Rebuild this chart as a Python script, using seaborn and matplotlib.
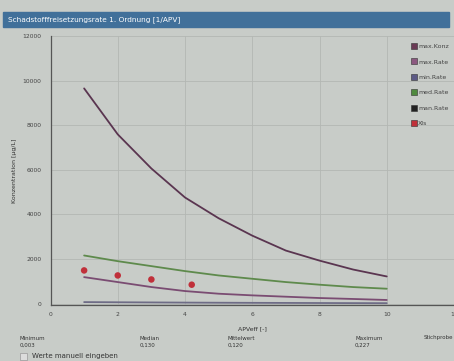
import numpy as np
import pandas as pd
import matplotlib
matplotlib.use("Agg")
import matplotlib.pyplot as plt
import seaborn as sns
from matplotlib.lines import Line2D
from matplotlib.patches import Rectangle

# values
apv = [1, 2, 3, 4, 5, 6, 7, 8, 9, 10]
max_konz = [9650, 7590, 6060, 4760, 3830, 3050, 2380, 1930, 1530, 1220]
med_rate = [2160, 1905, 1683, 1460, 1265, 1116, 968, 850, 744, 670]
max_rate = [1190, 968, 745, 565, 446, 372, 312, 253, 210, 165]
min_rate = [70, 62, 55, 48, 42, 37, 33, 29, 25, 22]

xis_x = [1.0, 2.0, 3.0, 4.2]
xis_y = [1490, 1265, 1085, 850]

legend_names = ["max.Konz", "max.Rate", "min.Rate", "med.Rate", "man.Rate", "XIs"]
legend_colors = ["#6a3a55", "#8c5880", "#5c5a86", "#4f8a3e", "#222222", "#c0303a"]

stat_names = ["Minimum", "Median", "Mittelwert", "Maximum", "Stichprobe"]
stat_values = ["0,003", "0,130", "0,120", "0,227", ""]

bg = "#c8ccc8"
sns.set_style("whitegrid", {"axes.facecolor": bg, "grid.color": "#b3b7b3",
                            "axes.edgecolor": "#555555"})
plt.rcParams["font.family"] = ["DejaVu Sans"]

fig = plt.figure(figsize=(4.54, 3.61), dpi=100, facecolor=bg)
ax = fig.add_axes([50.5 / 454, 56 / 361, 403.5 / 454, 269 / 361])

curves = pd.DataFrame({"x": apv, "max.Konz": max_konz, "max.Rate": max_rate,
                       "min.Rate": min_rate, "med.Rate": med_rate})
line_cols = {"max.Konz": "#5a3550", "med.Rate": "#5e8a4c",
             "max.Rate": "#7a4c72", "min.Rate": "#6e6c86"}
for name, col in line_cols.items():
    sns.lineplot(data=curves, x="x", y=name, color=col, linewidth=1.3, ax=ax)

sns.scatterplot(x=xis_x, y=xis_y, color="#c0303a", s=22, edgecolor="none",
                ax=ax, zorder=5)

ax.set_xlim(0, 12)
ax.set_ylim(-60, 12000)
ax.set_xticks(np.arange(0, 13, 2))
ax.set_yticks(np.arange(0, 12001, 2000))
ax.tick_params(labelsize=4.3, colors="#444444", length=3, width=0.6)
ax.tick_params(axis="x", direction="inout")
ax.grid(True, linewidth=0.6)
ax.set_xlabel("APVeff [-]", fontsize=4.5, color="#333333", labelpad=7)
ax.set_ylabel("Konzentration [µg/L]", fontsize=4.5, color="#333333", labelpad=4)
for s in ["top", "right"]:
    ax.spines[s].set_visible(False)
ax.spines["left"].set_linewidth(0.9)
ax.spines["bottom"].set_linewidth(0.9)

handles = [Line2D([], [], marker="s", linestyle="none", markersize=4.6,
                  markerfacecolor=c, markeredgecolor="#333333",
                  markeredgewidth=0.4) for c in legend_colors]
ax.legend(handles, legend_names, loc="upper left", bbox_to_anchor=(0.885, 0.98),
          fontsize=4.5, frameon=False, handletextpad=0.1, labelspacing=1.6,
          borderaxespad=0, handlelength=1.2, labelcolor="#444444")

# title banner
fig.add_artist(Rectangle((3 / 454, 1 - 27 / 361), 446 / 454, 15 / 361,
                         transform=fig.transFigure, color="#41709a", zorder=0))
fig.text(8 / 454, 1 - 19.5 / 361, "Schadstofffreisetzungsrate 1. Ordnung [1/APV]",
         fontsize=5.3, color="white", va="center")

# stats row under the chart
stat_x = [20, 140, 228, 355, 424]
for x, n, v in zip(stat_x, stat_names, stat_values):
    fig.text(x / 454, 1 - 338 / 361, n, fontsize=4, color="#333333", va="center")
    fig.text(x / 454, 1 - 345 / 361, v, fontsize=4, color="#333333", va="center")

fig.add_artist(Rectangle((20 / 454, 1 - 360 / 361), 7 / 454, 7 / 361,
                         transform=fig.transFigure, facecolor="#dcdcdc",
                         edgecolor="#999999", linewidth=0.5))
fig.text(32 / 454, 1 - 356 / 361, "Werte manuell eingeben", fontsize=5,
         color="#333333", va="center")

fig.savefig("out.png", dpi=100, facecolor=bg)
